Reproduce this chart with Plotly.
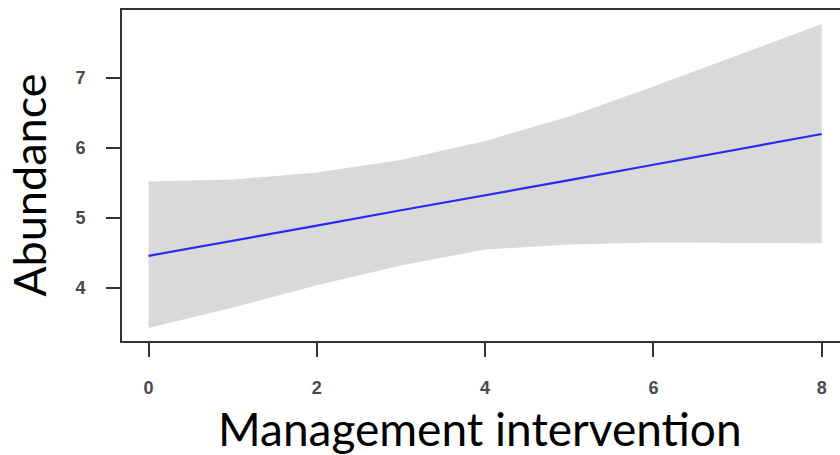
import plotly.graph_objects as go

# Fitted abundance along management intervention, with confidence band
intervention = [0, 1, 2, 3, 4, 5, 6, 7, 8]
fit = [4.46, 4.67, 4.89, 5.11, 5.32, 5.54, 5.76, 5.98, 6.20]
upper = [5.52, 5.55, 5.65, 5.83, 6.10, 6.45, 6.88, 7.32, 7.77]
lower = [3.43, 3.72, 4.04, 4.32, 4.55, 4.62, 4.65, 4.65, 4.64]

x_ticks = [0, 2, 4, 6, 8]
y_ticks = [4, 5, 6, 7]

axis_col = "#333333"
tick_font = dict(family="Liberation Sans, Arial", size=18, color="#4a4a4a", weight="bold")

fig = go.Figure()
fig.add_trace(go.Scatter(
    x=intervention + intervention[::-1],
    y=upper + lower[::-1],
    fill="toself", fillcolor="#d9d9d9",
    line=dict(width=0), mode="lines", hoverinfo="skip", showlegend=False,
))
fig.add_trace(go.Scatter(
    x=intervention, y=fit, mode="lines",
    line=dict(color="#2a2af5", width=2.2), showlegend=False,
))

fig.update_xaxes(
    range=[-0.315, 8.217], tickvals=x_ticks, ticktext=[str(v) for v in x_ticks],
    showgrid=False, zeroline=False, showline=True, mirror=True,
    linecolor=axis_col, linewidth=2,
    ticks="outside", ticklen=14, tickwidth=2, tickcolor=axis_col,
    tickfont=tick_font, ticklabelstandoff=15,
)
fig.update_yaxes(
    range=[3.243, 7.971], tickvals=y_ticks, ticktext=[str(v) for v in y_ticks],
    showgrid=False, zeroline=False, showline=True,
    linecolor=axis_col, linewidth=2,
    ticks="outside", ticklen=14, tickwidth=2, tickcolor=axis_col,
    tickfont=tick_font, ticklabelstandoff=17,
)

fig.add_annotation(
    text="Management intervention", x=3.94, xref="x", y=0, yref="paper",
    yanchor="middle", yshift=-87, showarrow=False,
    font=dict(family="Lato", size=46, color="#000000"),
)
fig.add_annotation(
    text="Abundance", x=0, xref="paper", y=5.46, yref="y",
    xanchor="center", xshift=-93, textangle=-90, showarrow=False,
    font=dict(family="Lato", size=45, color="#000000"),
)

fig.update_layout(
    width=840, height=455,
    margin=dict(l=122, r=0, t=10, b=114),
    paper_bgcolor="white", plot_bgcolor="white",
)

fig.write_html("out.html")
